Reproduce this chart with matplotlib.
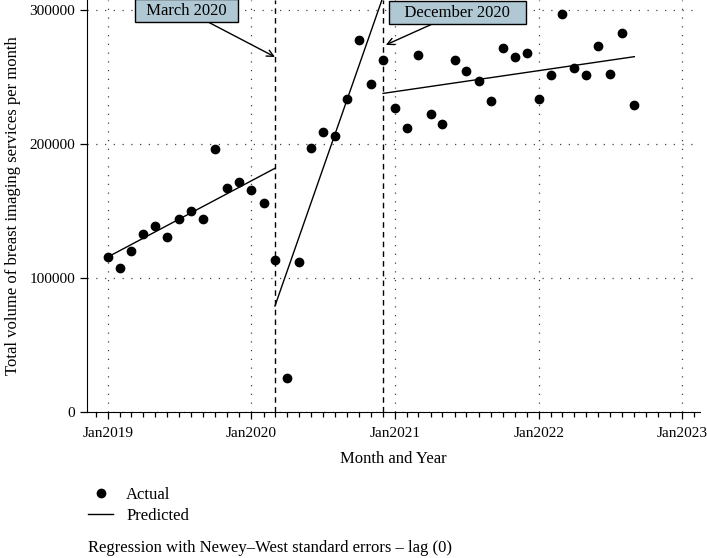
import datetime as dt
import matplotlib
matplotlib.use('Agg')
from matplotlib import pyplot as plt
from matplotlib.lines import Line2D
import matplotlib.dates as mdates
import pandas as pd

plt.rcParams['font.family'] = ['Liberation Serif', 'DejaVu Serif']
plt.rcParams['font.size'] = 12

# monthly actual volumes, Jan 2019 - Sep 2022
months = pd.date_range('2019-01-01', '2022-09-01', freq='MS')
actual = [115700, 107700, 120400, 132600, 139000, 130400, 143800, 149800, 144300,
          196300, 167400, 171900,
          165900, 156200, 113400, 25400, 111900, 197200, 209200, 206200, 233600,
          277400, 244500, 262900,
          226600, 211900, 266400, 222200, 215200, 262400, 254500, 246800, 232300,
          271400, 264900, 267900,
          233800, 251200, 296800, 256500, 251200, 273400, 252500, 283100, 229100]

# predicted segments (start date, end date, start value, end value)
seg_start = ['2019-01-01', '2020-03-01', '2020-12-01']
seg_end = ['2020-03-01', '2020-12-01', '2022-09-01']
seg_v0 = [115700, 79100, 237800]
seg_v1 = [181900, 310000, 265200]

breaks = ['2020-03-01', '2020-12-01']
notes = ['  March 2020  ', '   December 2020   ']
note_xy = [('2020-03-01', 265000), ('2020-12-08', 274000)]
note_text = [('2019-07-20', 299500), ('2021-06-08', 298000)]

fig = plt.figure(figsize=(7.07, 5.58), dpi=100)
ax = fig.add_axes([87/707, 1 - 412/558, (700 - 87)/707, 412/558])

ax.plot(months, actual, 'o', color='black', ms=6, zorder=3)
for s, e, v0, v1 in zip(seg_start, seg_end, seg_v0, seg_v1):
    ax.plot([pd.Timestamp(s), pd.Timestamp(e)], [v0, v1], color='black', lw=1.0)

for b in breaks:
    ax.axvline(pd.Timestamp(b), color='black', lw=1.0, ls=(0, (4, 3)))

for txt, xy, xt in zip(notes, note_xy, note_text):
    ax.annotate(txt, xy=(pd.Timestamp(xy[0]), xy[1]),
                xytext=(pd.Timestamp(xt[0]), xt[1]),
                ha='center', va='center', fontsize=12,
                bbox=dict(boxstyle='square,pad=0.2', fc='#b0c8d4', ec='black', lw=1.0),
                arrowprops=dict(arrowstyle='->', color='black', lw=1.0,
                                mutation_scale=12, shrinkA=0, shrinkB=0),
                annotation_clip=False)

ax.set_xlim(dt.datetime(2018, 11, 9), dt.datetime(2023, 2, 15))
ax.set_ylim(0, 307500)
ax.set_yticks([0, 100000, 200000, 300000])
ax.xaxis.set_major_locator(mdates.YearLocator())
ax.xaxis.set_minor_locator(mdates.MonthLocator())
ax.xaxis.set_major_formatter(mdates.DateFormatter('%b%Y'))

ax.grid(True, which='major', color='#444444', lw=0.9, ls=(0, (1, 6)))
ax.spines['top'].set_visible(False)
ax.spines['right'].set_visible(False)
ax.tick_params(axis='both', which='major', length=5, width=0.9, direction='out',
               labelsize=11)
ax.tick_params(axis='x', which='major', pad=6)
ax.tick_params(axis='x', which='minor', length=3.5, width=0.9)

ax.set_xlabel('Month and Year', labelpad=8)
ax.set_ylabel('Total volume of breast imaging services per month', labelpad=6)

handles = [Line2D([], [], marker='o', ls='none', color='black', ms=6),
           Line2D([], [], color='black', lw=1.0)]
fig.legend(handles, ['Actual', 'Predicted'], loc='upper left',
           bbox_to_anchor=(88/707, 1 - 487/558), frameon=False,
           handlelength=1.5, handletextpad=0.8, labelspacing=0.3,
           borderpad=0, borderaxespad=0)

fig.text(88/707, 1 - 548/558, 'Regression with Newey\u2013West standard errors \u2013 lag (0)',
         va='center', ha='left', fontsize=12)

fig.savefig('out.png', dpi=100)
